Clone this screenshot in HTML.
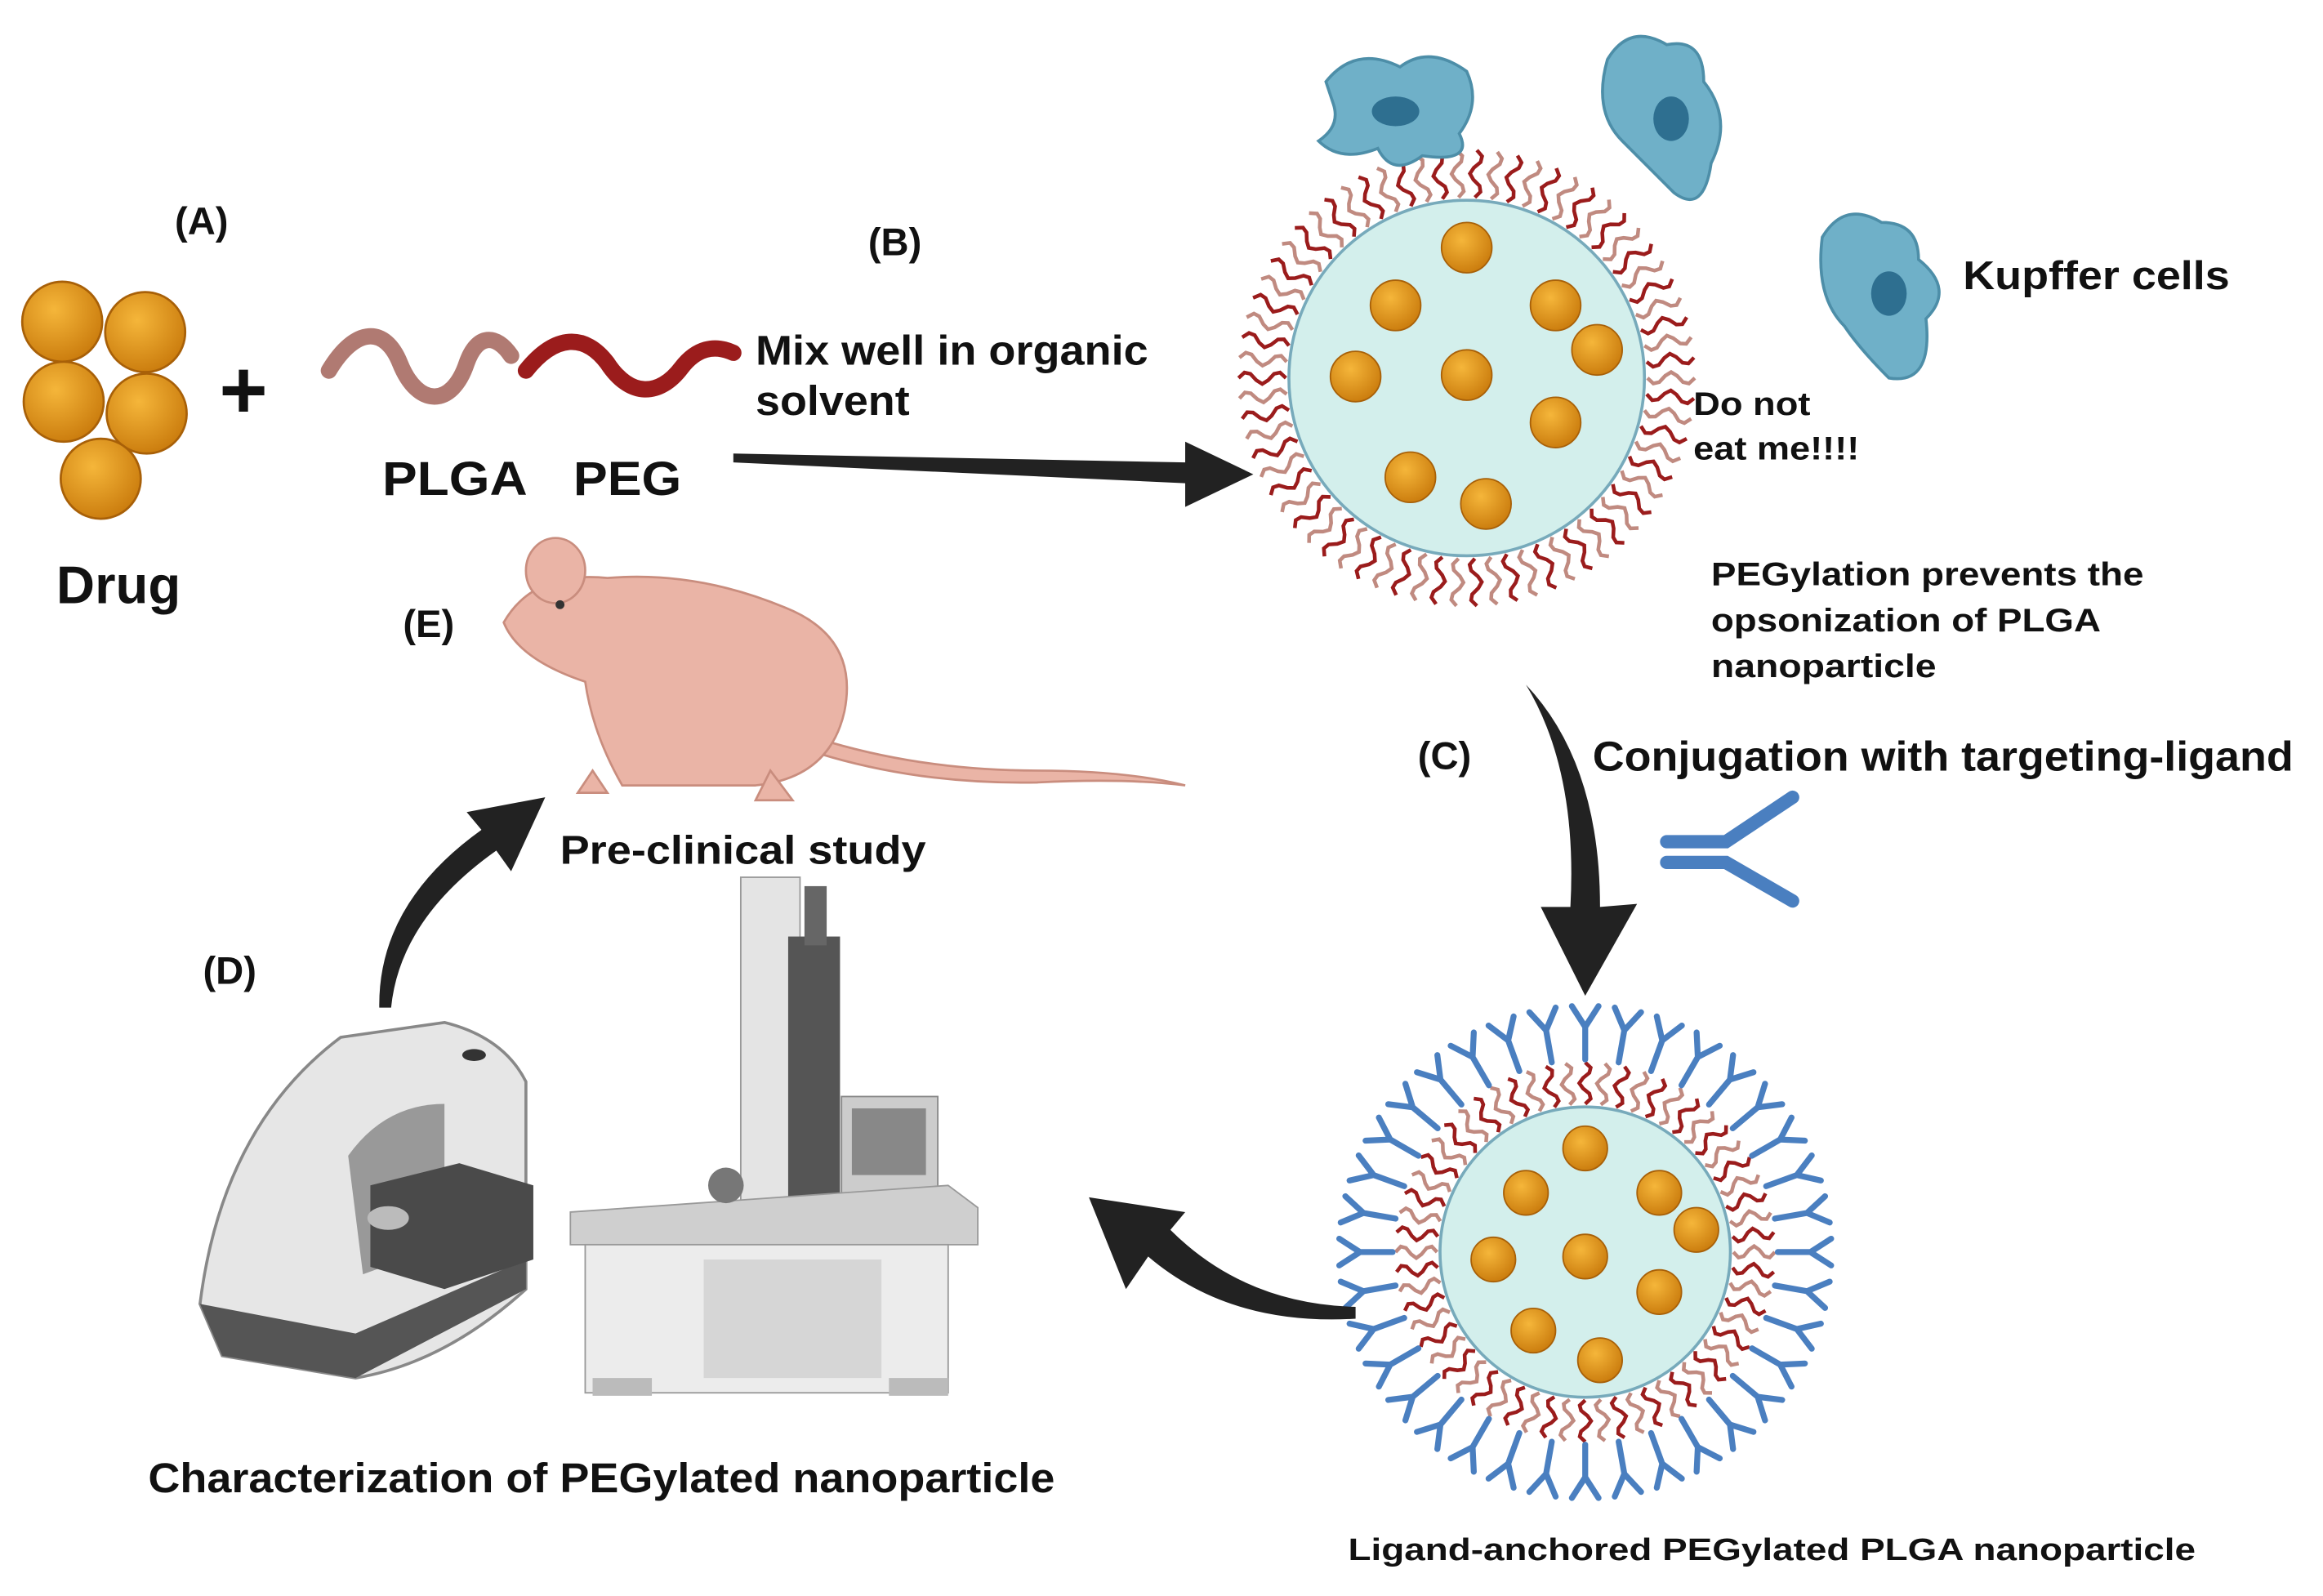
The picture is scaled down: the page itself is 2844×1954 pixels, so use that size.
<!DOCTYPE html>
<html><head><meta charset="utf-8"><style>
html,body{margin:0;padding:0;background:#fff;}
svg{display:block;}
text{font-family:"Liberation Sans",sans-serif;font-weight:bold;fill:#111;}
</style></head><body>
<svg id="s" width="2844" height="1954" viewBox="0 0 1568 1077" xmlns="http://www.w3.org/2000/svg">
<defs>
<radialGradient id="ball" cx="0.4" cy="0.35" r="0.7"><stop offset="0" stop-color="#f5b63a"/><stop offset="1" stop-color="#c97a0c"/></radialGradient>
</defs>
<rect width="1568" height="1077" fill="#fff"/>
<!-- A -->
<text x="118" y="158" font-size="26">(A)</text>
<g fill="url(#ball)" stroke="#a86008" stroke-width="1.5">
<circle cx="42" cy="217" r="27"/><circle cx="98" cy="224" r="27"/><circle cx="43" cy="271" r="27"/><circle cx="99" cy="279" r="27"/><circle cx="68" cy="323" r="27"/>
</g>
<text x="148" y="282" font-size="56">+</text>
<path d="M222 250 C240 220 260 220 270 245 C282 275 305 275 315 245 C322 225 335 225 345 240" fill="none" stroke="#b07a72" stroke-width="11" stroke-linecap="round"/>
<path d="M355 250 C375 225 395 225 410 245 C425 268 445 268 460 248 C470 235 482 232 495 238" fill="none" stroke="#9b1c1c" stroke-width="11" stroke-linecap="round"/>
<text x="258" y="334" font-size="32" textLength="98" lengthAdjust="spacingAndGlyphs">PLGA</text>
<text x="387" y="334" font-size="32" textLength="73" lengthAdjust="spacingAndGlyphs">PEG</text>
<text x="38" y="407" font-size="36">Drug</text>
<text x="510" y="246" font-size="28" textLength="265" lengthAdjust="spacingAndGlyphs">Mix well in organic</text>
<text x="510" y="280" font-size="28" textLength="104" lengthAdjust="spacingAndGlyphs">solvent</text>
<text x="586" y="172" font-size="26">(B)</text>
<path d="M495 306 L800 312 L800 298 L846 320 L800 342 L800 326 L495 312 Z" fill="#222"/>
<!-- NP1 -->
<g id="np1"></g>
<circle cx="990" cy="255" r="120" fill="#d3efec" stroke="#7ab" stroke-width="2"/>
<g fill="url(#ball)" stroke="#a86008" stroke-width="1">
<circle cx="990" cy="167" r="17"/><circle cx="942" cy="206" r="17"/><circle cx="1050" cy="206" r="17"/><circle cx="1078" cy="236" r="17"/><circle cx="915" cy="254" r="17"/><circle cx="990" cy="253" r="17"/><circle cx="1050" cy="285" r="17"/><circle cx="952" cy="322" r="17"/><circle cx="1003" cy="340" r="17"/>
</g>
<!-- Kupffer cells -->
<g fill="#6fb0c8" stroke="#4d8ea8" stroke-width="2">
<path d="M895 55 Q915 30 945 45 Q965 30 990 48 Q1000 70 985 90 Q995 110 960 105 Q940 120 930 100 Q905 110 890 95 Q905 85 900 70 Z"/>
<path d="M1085 40 Q1100 15 1125 30 Q1150 25 1150 55 Q1170 80 1155 110 Q1150 145 1130 130 Q1110 110 1095 95 Q1075 75 1085 40 Z"/>
<path d="M1230 160 Q1245 135 1270 150 Q1295 150 1295 175 Q1320 195 1300 215 Q1305 260 1275 255 Q1255 235 1245 220 Q1225 200 1230 160 Z"/>
</g>
<g fill="#2e6f90"><ellipse cx="942" cy="75" rx="16" ry="10"/><ellipse cx="1128" cy="80" rx="12" ry="15"/><ellipse cx="1275" cy="198" rx="12" ry="15"/></g>
<text x="1325" y="195" font-size="27" textLength="180" lengthAdjust="spacingAndGlyphs">Kupffer cells</text>
<text x="1143" y="280" font-size="22" textLength="79" lengthAdjust="spacingAndGlyphs">Do not</text>
<text x="1143" y="310" font-size="22" textLength="112" lengthAdjust="spacingAndGlyphs">eat me!!!!</text>
<text x="1155" y="395" font-size="22" textLength="292" lengthAdjust="spacingAndGlyphs">PEGylation prevents the</text>
<text x="1155" y="426" font-size="22" textLength="263" lengthAdjust="spacingAndGlyphs">opsonization of PLGA</text>
<text x="1155" y="457" font-size="22" textLength="152" lengthAdjust="spacingAndGlyphs">nanoparticle</text>
<!-- C -->
<text x="957" y="519" font-size="26">(C)</text>
<text x="1075" y="520" font-size="28" textLength="473" lengthAdjust="spacingAndGlyphs">Conjugation with targeting-ligand</text>
<path d="M1030 462 Q1065 520 1060 612 L1040 612 L1070 672 L1105 610 L1080 612 Q1080 515 1030 462 Z" fill="#222"/>
<g stroke="#4a7fc0" stroke-width="9" stroke-linecap="round" fill="none">
<path d="M1125 568 L1165 568 L1210 538"/><path d="M1125 582 L1165 582 L1210 608"/>
</g>
<!-- NP2 -->
<g id="np2"></g>
<circle cx="1070" cy="845" r="98" fill="#d3efec" stroke="#7ab" stroke-width="2"/>
<g fill="url(#ball)" stroke="#a86008" stroke-width="1">
<circle cx="1070" cy="775" r="15"/><circle cx="1030" cy="805" r="15"/><circle cx="1120" cy="805" r="15"/><circle cx="1145" cy="830" r="15"/><circle cx="1008" cy="850" r="15"/><circle cx="1070" cy="848" r="15"/><circle cx="1120" cy="872" r="15"/><circle cx="1035" cy="898" r="15"/><circle cx="1080" cy="918" r="15"/>
</g>
<text x="910" y="1053" font-size="21" textLength="572" lengthAdjust="spacingAndGlyphs">Ligand-anchored PEGylated PLGA nanoparticle</text>
<path d="M915 882 Q840 880 790 830 L800 818 L735 808 L760 870 L775 848 Q830 895 915 890 Z" fill="#222"/>
<!-- Instruments -->
<path d="M135 880 Q150 760 230 700 L300 690 Q340 700 355 730 L355 870 Q300 920 240 930 L150 915 Z" fill="#e6e6e6" stroke="#888" stroke-width="2"/>
<path d="M135 880 L150 915 L240 930 L355 870 L355 850 L240 900 Z" fill="#555"/>
<path d="M235 780 Q260 745 300 745 L300 840 L245 860 Z" fill="#999"/>
<path d="M250 800 L310 785 L360 800 L360 850 L300 870 L250 855 Z" fill="#4a4a4a"/>
<ellipse cx="262" cy="822" rx="14" ry="8" fill="#bbb"/>
<ellipse cx="320" cy="712" rx="8" ry="4" fill="#333"/>
<rect x="500" y="592" width="40" height="230" fill="#e4e4e4" stroke="#999"/>
<rect x="532" y="632" width="35" height="200" fill="#555"/>
<rect x="543" y="598" width="15" height="40" fill="#666"/>
<rect x="568" y="740" width="65" height="65" fill="#ccc" stroke="#888"/>
<rect x="575" y="748" width="50" height="45" fill="#888"/>
<path d="M385 818 L640 800 L660 815 L660 840 L385 840 Z" fill="#cfcfcf" stroke="#999"/>
<rect x="395" y="840" width="245" height="100" fill="#ececec" stroke="#999"/>
<rect x="475" y="850" width="120" height="80" fill="#d6d6d6"/>
<rect x="400" y="930" width="40" height="12" fill="#bbb"/><rect x="600" y="930" width="40" height="12" fill="#bbb"/>
<circle cx="490" cy="800" r="12" fill="#777"/>
<text x="100" y="1007" font-size="28" textLength="612" lengthAdjust="spacingAndGlyphs">Characterization of PEGylated nanoparticle</text>
<text x="137" y="664" font-size="26">(D)</text>
<path d="M256 680 Q255 610 325 560 L315 548 L368 538 L345 588 L335 574 Q270 620 264 680 Z" fill="#222"/>
<!-- Mouse -->
<g fill="#eab4a6" stroke="#c98d7e" stroke-width="1.5">
<path d="M515 485 Q600 520 700 520 Q760 520 800 530 Q760 525 700 528 Q600 530 515 495 Z"/>
<path d="M340 420 Q360 385 410 390 Q470 385 530 410 Q580 430 570 480 Q560 525 510 530 L420 530 Q400 495 395 460 Q350 445 340 420 Z"/>
<ellipse cx="375" cy="385" rx="20" ry="22"/>
<path d="M400 520 L390 535 L410 535 Z"/><path d="M520 520 L510 540 L535 540 Z"/>
</g>
<circle cx="378" cy="408" r="3" fill="#333"/>
<text x="272" y="430" font-size="26">(E)</text>
<text x="378" y="583" font-size="27" textLength="247" lengthAdjust="spacingAndGlyphs">Pre-clinical study</text>
</svg>
<script>
(function(){
var ns="http://www.w3.org/2000/svg";
function wave(g,cx,cy,r0,len,ang,col){
  var d="",n=8;
  for(var i=0;i<=n;i++){var t=i/n,r=r0+len*t,off=Math.sin(t*Math.PI*3)*4;
    var x=cx+Math.cos(ang)*r-Math.sin(ang)*off,y=cy+Math.sin(ang)*r+Math.cos(ang)*off;
    d+=(i?"L":"M")+x.toFixed(1)+" "+y.toFixed(1);}
  var p=document.createElementNS(ns,"path");p.setAttribute("d",d);p.setAttribute("fill","none");
  p.setAttribute("stroke",col);p.setAttribute("stroke-width","2.5");g.appendChild(p);
}
var g1=document.getElementById("np1");
for(var i=0;i<70;i++){var a=i/70*Math.PI*2;wave(g1,990,255,122,32,a,i%2?"#9b1c1c":"#c08a80");}
var g2=document.getElementById("np2");
for(var i=0;i<60;i++){var a=i/60*Math.PI*2;wave(g2,1070,845,100,28,a,i%2?"#9b1c1c":"#c08a80");}
for(var i=0;i<36;i++){var a=i/36*Math.PI*2,ca=Math.cos(a),sa=Math.sin(a);
  var x1=1070+ca*130,y1=845+sa*130,x2=1070+ca*152,y2=845+sa*152;
  var d="M"+x1+" "+y1+"L"+x2+" "+y2+"M"+x2+" "+y2+"L"+(x2+ca*14-sa*9)+" "+(y2+sa*14+ca*9)+"M"+x2+" "+y2+"L"+(x2+ca*14+sa*9)+" "+(y2+sa*14-ca*9);
  var p=document.createElementNS(ns,"path");p.setAttribute("d",d);p.setAttribute("stroke","#4a7fc0");p.setAttribute("stroke-width","4");p.setAttribute("fill","none");p.setAttribute("stroke-linecap","round");g2.appendChild(p);}
})();
</script>
</body></html>
